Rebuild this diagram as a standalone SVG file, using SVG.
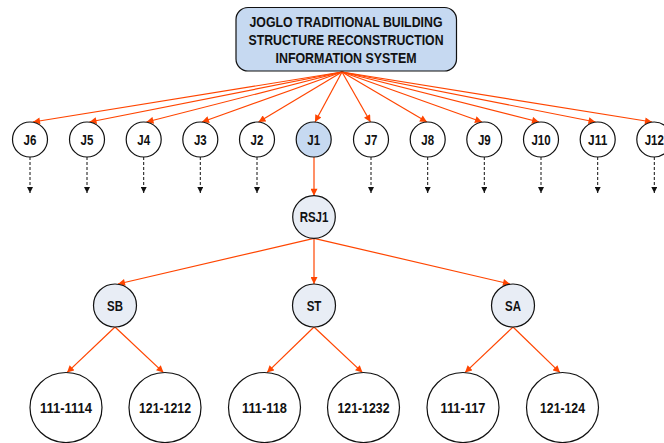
<svg xmlns="http://www.w3.org/2000/svg" width="664" height="443" viewBox="0 0 664 443">
<style>
text{font-family:"Liberation Sans Narrow","Arial Narrow","Liberation Sans",Arial,sans-serif;font-weight:bold;fill:#111;text-anchor:middle}
.t14{font-size:14px}
.t15{font-size:15px}
.c{fill:#fff;stroke:#111;stroke-width:1.2}
.blue{fill:#c6d9f1;stroke:#111;stroke-width:1.2}
.lt{fill:#e8edf5;stroke:#111;stroke-width:1.2}
.red{stroke:#ff4500;stroke-width:1.2;fill:none;marker-end:url(#ar)}
.dash{stroke:#111;stroke-width:1;stroke-dasharray:3,2;fill:none;marker-end:url(#ab)}
</style>
<defs>
<marker id="ar" viewBox="0 0 10 10" refX="10" refY="5" markerWidth="8" markerHeight="7" markerUnits="userSpaceOnUse" orient="auto"><path d="M0,0 L10,5 L0,10 z" fill="#ff4500"/></marker>
<marker id="ab" viewBox="0 0 10 10" refX="10" refY="5" markerWidth="7" markerHeight="6" markerUnits="userSpaceOnUse" orient="auto"><path d="M0,0 L10,5 L0,10 z" fill="#111"/></marker>
</defs>
<g id="connectors">
<line class="red" x1="342" y1="72" x2="33" y2="122"/>
<line class="red" x1="342" y1="72" x2="89.5" y2="122"/>
<line class="red" x1="342" y1="72" x2="146.5" y2="122"/>
<line class="red" x1="342" y1="72" x2="202" y2="122"/>
<line class="red" x1="342" y1="72" x2="258.5" y2="122"/>
<line class="red" x1="342" y1="72" x2="315" y2="122"/>
<line class="red" x1="342" y1="72" x2="370.5" y2="122"/>
<line class="red" x1="342" y1="72" x2="427" y2="122"/>
<line class="red" x1="342" y1="72" x2="482" y2="122"/>
<line class="red" x1="342" y1="72" x2="539" y2="122"/>
<line class="red" x1="342" y1="72" x2="595.5" y2="122"/>
<line class="red" x1="342" y1="72" x2="652" y2="122"/>
<line class="dash" x1="30" y1="157" x2="30" y2="193"/>
<line class="dash" x1="87" y1="157" x2="87" y2="193"/>
<line class="dash" x1="143.7" y1="157" x2="143.7" y2="193"/>
<line class="dash" x1="200.3" y1="157" x2="200.3" y2="193"/>
<line class="dash" x1="257" y1="157" x2="257" y2="193"/>
<line class="dash" x1="371" y1="157" x2="371" y2="193"/>
<line class="dash" x1="427.7" y1="157" x2="427.7" y2="193"/>
<line class="dash" x1="484.3" y1="157" x2="484.3" y2="193"/>
<line class="dash" x1="541" y1="157" x2="541" y2="193"/>
<line class="dash" x1="597.7" y1="157" x2="597.7" y2="193"/>
<line class="dash" x1="654.3" y1="157" x2="654.3" y2="193"/>
<line class="red" x1="314" y1="157" x2="314" y2="195.7"/>
<line class="red" x1="314" y1="238.3" x2="118" y2="284"/>
<line class="red" x1="314" y1="238.3" x2="314" y2="284"/>
<line class="red" x1="314" y1="238.3" x2="510" y2="284"/>
<line class="red" x1="115" y1="327" x2="67" y2="372.6"/>
<line class="red" x1="115" y1="327" x2="163.5" y2="372.6"/>
<line class="red" x1="314" y1="327" x2="267" y2="372.6"/>
<line class="red" x1="314" y1="327" x2="362.5" y2="372.6"/>
<line class="red" x1="513" y1="327" x2="465" y2="372.6"/>
<line class="red" x1="513" y1="327" x2="560" y2="372.6"/>
</g>
<g id="title">
<rect class="blue" x="236" y="7.5" width="220.5" height="63.5" rx="12" ry="12"/>
<text class="t15" x="346" y="26.5" textLength="193" lengthAdjust="spacingAndGlyphs">JOGLO TRADITIONAL BUILDING</text>
<text class="t15" x="346" y="44.7" textLength="195" lengthAdjust="spacingAndGlyphs">STRUCTURE RECONSTRUCTION</text>
<text class="t15" x="346" y="62.7" textLength="141" lengthAdjust="spacingAndGlyphs">INFORMATION SYSTEM</text>
</g>
<g id="J6"><circle class="c" cx="30" cy="139.5" r="17.5"/><text class="t14" x="30" y="144.5" textLength="12.8" lengthAdjust="spacingAndGlyphs">J6</text></g>
<g id="J5"><circle class="c" cx="87" cy="139.5" r="17.5"/><text class="t14" x="87" y="144.5" textLength="12.8" lengthAdjust="spacingAndGlyphs">J5</text></g>
<g id="J4"><circle class="c" cx="143.7" cy="139.5" r="17.5"/><text class="t14" x="143.7" y="144.5" textLength="12.8" lengthAdjust="spacingAndGlyphs">J4</text></g>
<g id="J3"><circle class="c" cx="200.3" cy="139.5" r="17.5"/><text class="t14" x="200.3" y="144.5" textLength="12.8" lengthAdjust="spacingAndGlyphs">J3</text></g>
<g id="J2"><circle class="c" cx="257" cy="139.5" r="17.5"/><text class="t14" x="257" y="144.5" textLength="12.8" lengthAdjust="spacingAndGlyphs">J2</text></g>
<g id="J1"><circle class="blue" cx="313.7" cy="139.5" r="17.5"/><text class="t14" x="313.7" y="144.5" textLength="12.8" lengthAdjust="spacingAndGlyphs">J1</text></g>
<g id="J7"><circle class="c" cx="371" cy="139.5" r="17.5"/><text class="t14" x="371" y="144.5" textLength="12.8" lengthAdjust="spacingAndGlyphs">J7</text></g>
<g id="J8"><circle class="c" cx="427.7" cy="139.5" r="17.5"/><text class="t14" x="427.7" y="144.5" textLength="12.8" lengthAdjust="spacingAndGlyphs">J8</text></g>
<g id="J9"><circle class="c" cx="484.3" cy="139.5" r="17.5"/><text class="t14" x="484.3" y="144.5" textLength="12.8" lengthAdjust="spacingAndGlyphs">J9</text></g>
<g id="J10"><circle class="c" cx="541" cy="139.5" r="17.5"/><text class="t14" x="541" y="144.5" textLength="19.2" lengthAdjust="spacingAndGlyphs">J10</text></g>
<g id="J11"><circle class="c" cx="597.7" cy="139.5" r="17.5"/><text class="t14" x="597.7" y="144.5" textLength="19.2" lengthAdjust="spacingAndGlyphs">J11</text></g>
<g id="J12"><circle class="c" cx="654.3" cy="139.5" r="17.5"/><text class="t14" x="654.3" y="144.5" textLength="19.2" lengthAdjust="spacingAndGlyphs">J12</text></g>
<g id="RSJ1"><circle class="lt" cx="314" cy="217" r="21.3"/><text class="t14" x="314" y="222" textLength="28.7" lengthAdjust="spacingAndGlyphs">RSJ1</text></g>
<g id="SB"><circle class="lt" cx="115" cy="305.5" r="21.5"/><text class="t14" x="115" y="310.5" textLength="15.9" lengthAdjust="spacingAndGlyphs">SB</text></g>
<g id="ST"><circle class="lt" cx="314" cy="305.5" r="21.5"/><text class="t14" x="314" y="310.5" textLength="14.7" lengthAdjust="spacingAndGlyphs">ST</text></g>
<g id="SA"><circle class="lt" cx="513" cy="305.5" r="21.5"/><text class="t14" x="513" y="310.5" textLength="15.9" lengthAdjust="spacingAndGlyphs">SA</text></g>
<g id="n111-1114"><ellipse class="c" cx="66" cy="407.5" rx="36" ry="35"/><text class="t15" x="66" y="413" textLength="52" lengthAdjust="spacingAndGlyphs">111-1114</text></g>
<g id="n121-1212"><ellipse class="c" cx="165" cy="407.5" rx="36" ry="35"/><text class="t15" x="165" y="413" textLength="52" lengthAdjust="spacingAndGlyphs">121-1212</text></g>
<g id="n111-118"><ellipse class="c" cx="264.5" cy="407.5" rx="36" ry="35"/><text class="t15" x="264.5" y="413" textLength="45" lengthAdjust="spacingAndGlyphs">111-118</text></g>
<g id="n121-1232"><ellipse class="c" cx="363.5" cy="407.5" rx="36" ry="35"/><text class="t15" x="363.5" y="413" textLength="52" lengthAdjust="spacingAndGlyphs">121-1232</text></g>
<g id="n111-117"><ellipse class="c" cx="463" cy="407.5" rx="36" ry="35"/><text class="t15" x="463" y="413" textLength="45" lengthAdjust="spacingAndGlyphs">111-117</text></g>
<g id="n121-124"><ellipse class="c" cx="562.5" cy="407.5" rx="36" ry="35"/><text class="t15" x="562.5" y="413" textLength="45" lengthAdjust="spacingAndGlyphs">121-124</text></g>
</svg>
